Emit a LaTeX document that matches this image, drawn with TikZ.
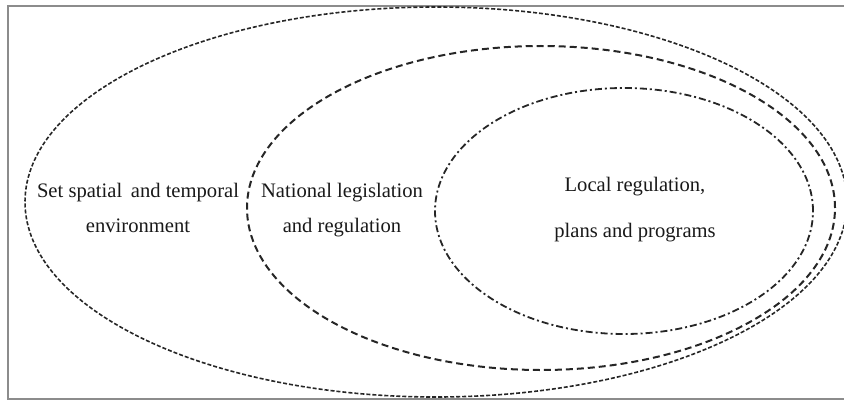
\documentclass[tikz,border=0pt]{standalone}
\usepackage{fontspec}
\setmainfont{Liberation Serif}
\usetikzlibrary{shapes.geometric}

\begin{document}
\begin{tikzpicture}[x=0.5pt, y=-0.5pt,
    ring/.style={draw=black!85, ellipse, inner sep=0pt},
    lbl/.style={align=center, text=black!90, font=\fontsize{10.3}{17.5}\selectfont}
  ]
    \useasboundingbox (0,0) rectangle (844,401);
    \draw[black!45, line width=0.6pt] (844,6) -- (8,6) -- (8,399) -- (844,399);

    % nested rings
    \node[ring, line width=0.8pt, dash pattern=on 2pt off 1pt,
      minimum width=411pt, minimum height=195pt] (outer) at (436,202) {};
    \node[ring, line width=1pt, dash pattern=on 3.5pt off 2pt,
      minimum width=294pt, minimum height=162pt] (middle) at (541,208) {};
    \node[ring, line width=0.9pt, dash pattern=on 3.5pt off 1.5pt on 1pt off 1.5pt,
      minimum width=189pt, minimum height=123pt] (inner) at (624,211) {};

    % labels
    \node[lbl] (setenv) at (138,208) {Set spatial\, and temporal\\environment};
    \node[lbl] (natreg) at (342,210) {National legislation\\and regulation};
    \node[lbl] (locreg) at (635,210) {Local regulation,\\[5.5pt]plans and programs};
  \end{tikzpicture}
\end{document}
